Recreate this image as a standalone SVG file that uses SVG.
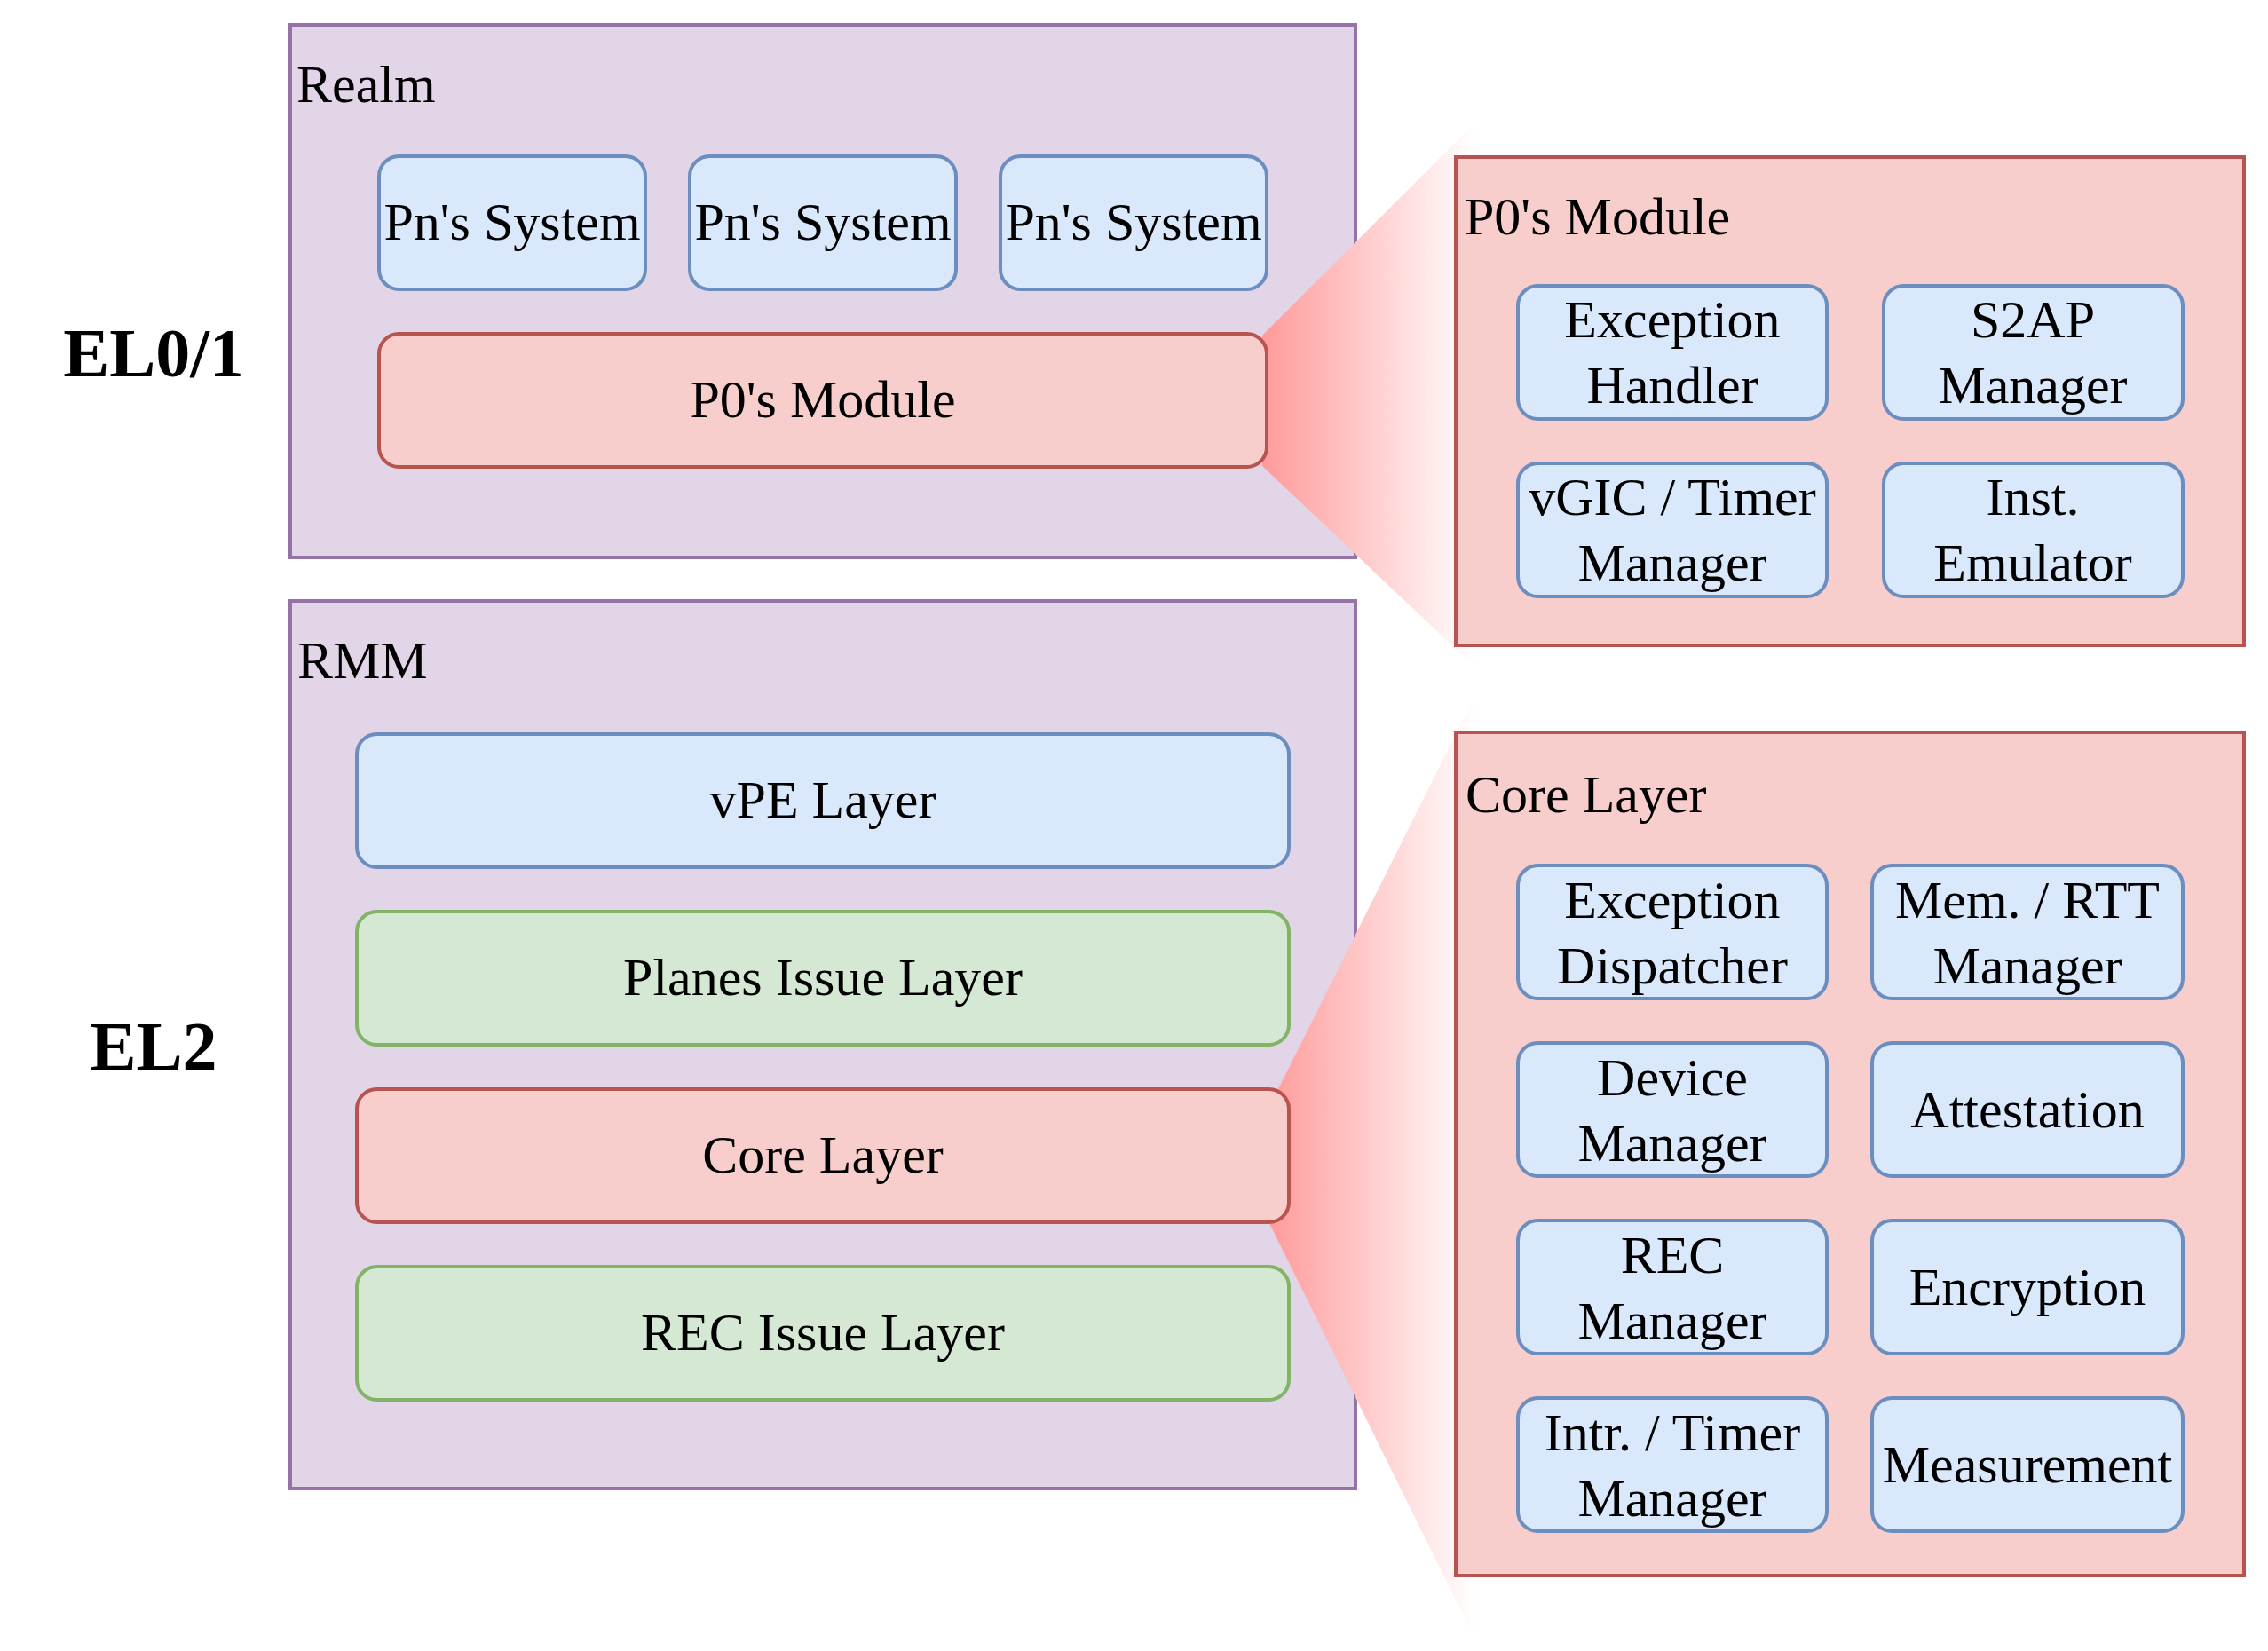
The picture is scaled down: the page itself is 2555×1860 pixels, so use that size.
<svg xmlns="http://www.w3.org/2000/svg" width="2555" height="1860" viewBox="0 0 2555 1860">
<defs>
<linearGradient id="gP0" gradientUnits="userSpaceOnUse" x1="1420" y1="0" x2="1662" y2="0">
<stop offset="0" stop-color="#FF9999"/><stop offset="1" stop-color="#FFFFFF"/>
</linearGradient>
<linearGradient id="gCore" gradientUnits="userSpaceOnUse" x1="1425" y1="0" x2="1662" y2="0">
<stop offset="0" stop-color="#FF9999"/><stop offset="1" stop-color="#FFFFFF"/>
</linearGradient>
<style>
.purple{fill:#e1d5e7;stroke:#9673a6;stroke-width:4}
.redc{fill:#f8cecc;stroke:#b85450;stroke-width:4}
.blue{fill:#dae8fc;stroke:#6c8ebf;stroke-width:4}
.green{fill:#d5e8d4;stroke:#82b366;stroke-width:4}
.red{fill:#f8cecc;stroke:#b85450;stroke-width:4}
text{font-family:"Liberation Serif","Times New Roman",serif;font-size:60px;fill:#000}
.c{text-anchor:middle}
.el{font-size:78px;font-weight:bold;text-anchor:middle}
</style>
</defs>
<rect width="2555" height="1860" fill="#ffffff"/>

<g id="label-el01"><text class="el" x="173" y="424">EL0/1</text></g>
<g id="label-el2"><text class="el" x="173" y="1205">EL2</text></g>

<g id="realm"><rect class="purple" x="327" y="28" width="1200" height="600"/><text x="334" y="115">Realm</text></g>
<g id="rmm"><rect class="purple" x="327" y="677" width="1200" height="1000"/><text x="335" y="764">RMM</text></g>

<g id="connectors">
<polygon points="1422,378 1662,138 1662,752 1422,525" fill="url(#gP0)"/>
<polygon points="1430,1247 1662,783 1662,1847 1430,1378" fill="url(#gCore)"/>
</g>

<g id="pn-system-1"><rect class="blue" x="427" y="176" width="300" height="150" rx="22.5"/><text class="c" x="577" y="270">Pn's System</text></g>
<g id="pn-system-2"><rect class="blue" x="777" y="176" width="300" height="150" rx="22.5"/><text class="c" x="927" y="270">Pn's System</text></g>
<g id="pn-system-3"><rect class="blue" x="1127" y="176" width="300" height="150" rx="22.5"/><text class="c" x="1277" y="270">Pn's System</text></g>
<g id="p0-module"><rect class="red" x="427" y="376" width="1000" height="150" rx="22.5"/><text class="c" x="927" y="470">P0's Module</text></g>

<g id="vpe-layer"><rect class="blue" x="402" y="827" width="1050" height="150" rx="22.5"/><text class="c" x="927" y="921">vPE Layer</text></g>
<g id="planes-issue-layer"><rect class="green" x="402" y="1027" width="1050" height="150" rx="22.5"/><text class="c" x="927" y="1121">Planes Issue Layer</text></g>
<g id="core-layer"><rect class="red" x="402" y="1227" width="1050" height="150" rx="22.5"/><text class="c" x="927" y="1321">Core Layer</text></g>
<g id="rec-issue-layer"><rect class="green" x="402" y="1427" width="1050" height="150" rx="22.5"/><text class="c" x="927" y="1521">REC Issue Layer</text></g>

<g id="p0-module-detail"><rect class="redc" x="1640" y="177" width="888" height="550"/><text x="1650" y="264">P0's Module</text></g>
<g id="exception-handler"><rect class="blue" x="1710" y="322" width="348" height="150" rx="22.5"/><text class="c" x="1884" y="380">Exception</text><text class="c" x="1884" y="454">Handler</text></g>
<g id="s2ap-manager"><rect class="blue" x="2122" y="322" width="337" height="150" rx="22.5"/><text class="c" x="2290" y="380">S2AP</text><text class="c" x="2290" y="454">Manager</text></g>
<g id="vgic-timer-manager"><rect class="blue" x="1710" y="522" width="348" height="150" rx="22.5"/><text class="c" x="1884" y="580">vGIC / Timer</text><text class="c" x="1884" y="654">Manager</text></g>
<g id="inst-emulator"><rect class="blue" x="2122" y="522" width="337" height="150" rx="22.5"/><text class="c" x="2290" y="580">Inst.</text><text class="c" x="2290" y="654">Emulator</text></g>

<g id="core-layer-detail"><rect class="redc" x="1640" y="825" width="888" height="950"/><text x="1651" y="915">Core Layer</text></g>
<g id="exception-dispatcher"><rect class="blue" x="1710" y="975" width="348" height="150" rx="22.5"/><text class="c" x="1884" y="1034">Exception</text><text class="c" x="1884" y="1108">Dispatcher</text></g>
<g id="mem-rtt-manager"><rect class="blue" x="2109" y="975" width="350" height="150" rx="22.5"/><text class="c" x="2284" y="1034">Mem. / RTT</text><text class="c" x="2284" y="1108">Manager</text></g>
<g id="device-manager"><rect class="blue" x="1710" y="1175" width="348" height="150" rx="22.5"/><text class="c" x="1884" y="1234">Device</text><text class="c" x="1884" y="1308">Manager</text></g>
<g id="attestation"><rect class="blue" x="2109" y="1175" width="350" height="150" rx="22.5"/><text class="c" x="2284" y="1270">Attestation</text></g>
<g id="rec-manager"><rect class="blue" x="1710" y="1375" width="348" height="150" rx="22.5"/><text class="c" x="1884" y="1434">REC</text><text class="c" x="1884" y="1508">Manager</text></g>
<g id="encryption"><rect class="blue" x="2109" y="1375" width="350" height="150" rx="22.5"/><text class="c" x="2284" y="1470">Encryption</text></g>
<g id="intr-timer-manager"><rect class="blue" x="1710" y="1575" width="348" height="150" rx="22.5"/><text class="c" x="1884" y="1634">Intr. / Timer</text><text class="c" x="1884" y="1708">Manager</text></g>
<g id="measurement"><rect class="blue" x="2109" y="1575" width="350" height="150" rx="22.5"/><text class="c" x="2284" y="1670">Measurement</text></g>
</svg>
